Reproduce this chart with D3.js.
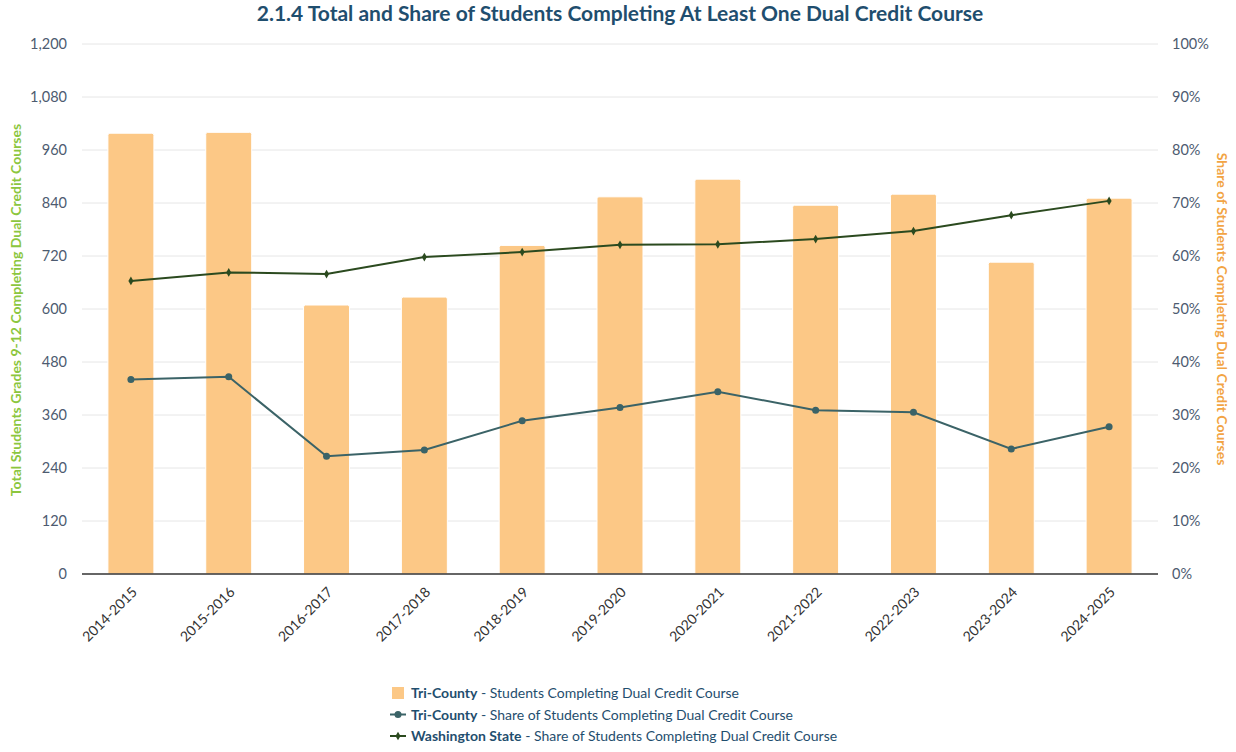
<!DOCTYPE html>
<html>
<head>
<meta charset="utf-8">
<script src="https://cdn.jsdelivr.net/npm/d3@7"></script>
<style>
  body { margin: 0; background: #fff; font-family: Lato, "Open Sans", sans-serif; }
  svg text { font-family: Lato, "Open Sans", sans-serif; }
</style>
</head>
<body>
<div id="chart"></div>
<script>
// school years on the x axis
const years = ["2014-2015", "2015-2016", "2016-2017", "2017-2018", "2018-2019", "2019-2020",
  "2020-2021", "2021-2022", "2022-2023", "2023-2024", "2024-2025"];

// Tri-County students completing dual credit (bars, left axis)
const triCountyStudents = [998, 1000, 609, 627, 744, 854, 894, 835, 860, 706, 851];

// share of students completing dual credit (lines, right axis, %)
const triCountyShare = [36.7, 37.2, 22.2, 23.4, 28.9, 31.4, 34.4, 30.9, 30.5, 23.6, 27.8];
const waStateShare = [55.3, 56.9, 56.6, 59.8, 60.75, 62.1, 62.2, 63.2, 64.7, 67.7, 70.4];

const leftTicks = [0, 120, 240, 360, 480, 600, 720, 840, 960, 1080, 1200];
const rightTicks = [0, 10, 20, 30, 40, 50, 60, 70, 80, 90, 100];

const W = 1236, H = 752;
const margin = { top: 44, right: 78, bottom: 178, left: 82 };
const innerW = W - margin.left - margin.right;
const innerH = H - margin.top - margin.bottom;

const barColor = "#fcc886";
const tcColor = "#3b6367";
const waColor = "#2b4a1f";
const tickColor = "#4d5b70";
const titleColor = "#1f4e6e";

const svg = d3.select("#chart").append("svg")
  .attr("width", W)
  .attr("height", H);

svg.append("text")
  .attr("x", 620)
  .attr("y", 21)
  .attr("text-anchor", "middle")
  .style("font-size", "21px")
  .style("font-weight", "bold")
  .style("fill", titleColor)
  .text("2.1.4 Total and Share of Students Completing At Least One Dual Credit Course");

const g = svg.append("g")
  .attr("transform", `translate(${margin.left},${margin.top})`);

const x = d3.scaleBand().domain(years).range([0, innerW]).paddingInner(0.53).paddingOuter(0.265);
const xc = d => x(d) + x.bandwidth() / 2;
const yL = d3.scaleLinear().domain([0, 1200]).range([innerH, 0]);
const yR = d3.scaleLinear().domain([0, 100]).range([innerH, 0]);

// gridlines
g.append("g")
  .selectAll("line")
  .data(leftTicks.slice(1))
  .enter().append("line")
  .attr("x1", 0)
  .attr("x2", innerW)
  .attr("y1", d => yL(d))
  .attr("y2", d => yL(d))
  .attr("stroke", "#e6e6e6")
  .attr("stroke-width", 1);

// left axis
const leftAxis = g.append("g")
  .call(d3.axisLeft(yL).tickValues(leftTicks).tickFormat(d3.format(",")).tickSize(0).tickPadding(15));
leftAxis.select(".domain").remove();
leftAxis.selectAll("text")
  .style("font-size", "14.5px")
  .style("fill", tickColor);

// right axis
const rightAxis = g.append("g")
  .attr("transform", `translate(${innerW},0)`)
  .call(d3.axisRight(yR).tickValues(rightTicks).tickFormat(d => d + "%").tickSize(0).tickPadding(14));
rightAxis.select(".domain").remove();
rightAxis.selectAll("text")
  .style("font-size", "14.5px")
  .style("fill", tickColor);

// axis titles
svg.append("text")
  .attr("transform", `translate(21,${margin.top + innerH / 2 + 1}) rotate(-90)`)
  .attr("text-anchor", "middle")
  .style("font-size", "14px")
  .style("font-weight", "bold")
  .style("fill", "#8cc63e")
  .text("Total Students Grades 9-12 Completing Dual Credit Courses");

svg.append("text")
  .attr("transform", `translate(1217,${margin.top + innerH / 2}) rotate(90)`)
  .attr("text-anchor", "middle")
  .style("font-size", "14px")
  .style("font-weight", "bold")
  .style("fill", "#f2a444")
  .text("Share of Students Completing Dual Credit Courses");

// bars
g.append("g")
  .selectAll("path")
  .data(triCountyStudents)
  .enter().append("path")
  .attr("d", (d, i) => {
    const x0 = x(years[i]), w = x.bandwidth(), y0 = yL(d), r = 2;
    return `M${x0},${innerH} V${y0 + r} Q${x0},${y0} ${x0 + r},${y0} H${x0 + w - r} Q${x0 + w},${y0} ${x0 + w},${y0 + r} V${innerH} Z`;
  })
  .attr("fill", barColor)
  .attr("stroke", "#fff")
  .attr("stroke-width", 1);

// x axis baseline and labels
const xAxis = g.append("g")
  .attr("transform", `translate(0,${innerH})`)
  .call(d3.axisBottom(x).tickSize(0).tickPadding(0));
xAxis.select(".domain").attr("stroke", "#333").attr("stroke-width", 1.3)
  .attr("d", `M0,0H${innerW}`);
xAxis.selectAll("text")
  .style("font-size", "14px")
  .style("fill", "#333")
  .attr("text-anchor", "end")
  .attr("dy", "0")
  .attr("transform", "translate(7,19) rotate(-45)");

// lines
const lineGen = yScale => d3.line()
  .x((d, i) => xc(years[i]))
  .y(d => yScale(d));

g.append("path")
  .datum(triCountyShare)
  .attr("fill", "none")
  .attr("stroke", tcColor)
  .attr("stroke-width", 2)
  .attr("d", lineGen(yR));

g.append("g")
  .selectAll("circle")
  .data(triCountyShare)
  .enter().append("circle")
  .attr("cx", (d, i) => xc(years[i]))
  .attr("cy", d => yR(d))
  .attr("r", 3.5)
  .attr("fill", tcColor);

g.append("path")
  .datum(waStateShare)
  .attr("fill", "none")
  .attr("stroke", waColor)
  .attr("stroke-width", 2)
  .attr("d", lineGen(yR));

const diamond = d3.symbol().type(d3.symbolDiamond).size(22);
g.append("g")
  .selectAll("path")
  .data(waStateShare)
  .enter().append("path")
  .attr("transform", (d, i) => `translate(${xc(years[i])},${yR(d)})`)
  .attr("d", diamond)
  .attr("fill", waColor);

// legend
const legendItems = [
  { bold: "Tri-County", rest: " - Students Completing Dual Credit Course", type: "bar" },
  { bold: "Tri-County", rest: " - Share of Students Completing Dual Credit Course", type: "tc" },
  { bold: "Washington State", rest: " - Share of Students Completing Dual Credit Course", type: "wa" }
];

const legend = svg.append("g").attr("transform", "translate(398,693)");
const rows = legend.selectAll("g")
  .data(legendItems)
  .enter().append("g")
  .attr("transform", (d, i) => `translate(0,${i * 21.5})`);

rows.each(function (d) {
  const row = d3.select(this);
  if (d.type === "bar") {
    row.append("rect").attr("x", -6).attr("y", -6).attr("width", 12).attr("height", 12)
      .attr("fill", barColor);
  } else {
    const c = d.type === "tc" ? tcColor : waColor;
    row.append("line").attr("x1", -8).attr("x2", 8).attr("y1", 0).attr("y2", 0)
      .attr("stroke", c).attr("stroke-width", 2);
    if (d.type === "tc") {
      row.append("circle").attr("r", 3.5).attr("fill", c);
    } else {
      row.append("path").attr("d", diamond).attr("fill", c);
    }
  }
  const t = row.append("text")
    .attr("x", 13)
    .attr("y", 5)
    .style("font-size", "14px")
    .style("fill", titleColor);
  t.append("tspan").style("font-weight", "bold").text(d.bold);
  t.append("tspan").text(d.rest);
});
</script>
</body>
</html>
